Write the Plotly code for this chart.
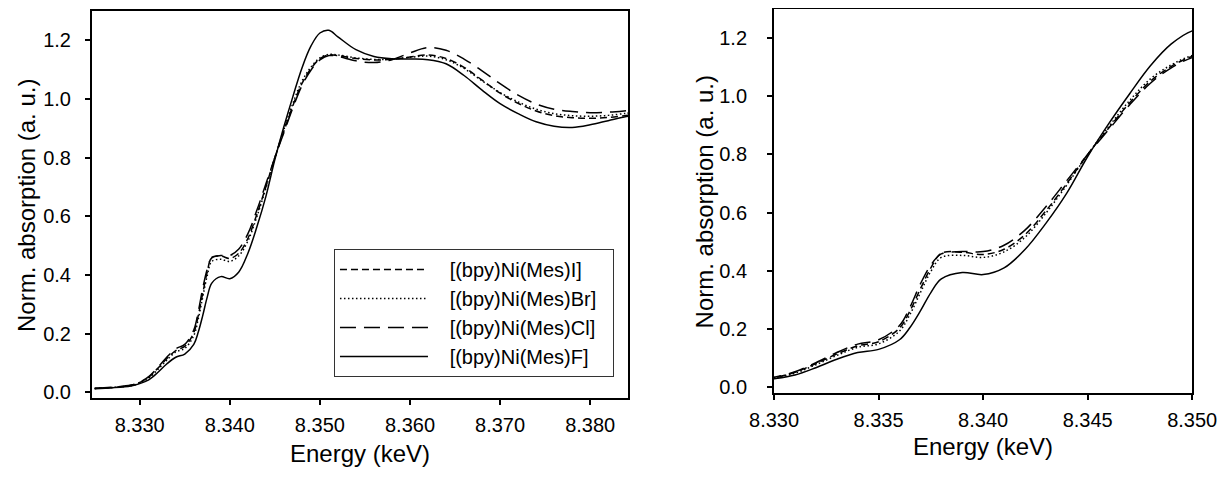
import plotly.graph_objects as go

# Ni K-edge XANES
energy = [8.325, 8.327, 8.329, 8.330, 8.331, 8.332, 8.333, 8.334, 8.335, 8.336,
          8.3365, 8.337, 8.3375, 8.338, 8.339, 8.340, 8.341, 8.342, 8.343, 8.344,
          8.345, 8.346, 8.347, 8.348, 8.349, 8.350, 8.351, 8.352, 8.354, 8.356,
          8.358, 8.360, 8.362, 8.364, 8.366, 8.368, 8.370, 8.372, 8.374, 8.376,
          8.378, 8.380, 8.382, 8.384, 8.385]

mu_I = [0.013, 0.016, 0.023, 0.033, 0.051, 0.081, 0.114, 0.142, 0.156, 0.203,
        0.262, 0.338, 0.410, 0.460, 0.464, 0.456, 0.474, 0.524, 0.606, 0.700,
        0.800, 0.890, 0.977, 1.052, 1.103, 1.137, 1.150, 1.148, 1.138, 1.133,
        1.135, 1.143, 1.150, 1.138, 1.108, 1.064, 1.020, 0.985, 0.959, 0.943,
        0.936, 0.934, 0.937, 0.944, 0.948]

mu_Br = [0.012, 0.016, 0.022, 0.031, 0.048, 0.077, 0.109, 0.137, 0.149, 0.193,
         0.250, 0.325, 0.398, 0.446, 0.453, 0.446, 0.465, 0.515, 0.598, 0.695,
         0.800, 0.895, 0.985, 1.060, 1.108, 1.140, 1.152, 1.150, 1.140, 1.135,
         1.136, 1.142, 1.146, 1.134, 1.104, 1.062, 1.022, 0.990, 0.965, 0.950,
         0.943, 0.941, 0.944, 0.951, 0.955]

mu_Cl = [0.013, 0.017, 0.024, 0.034, 0.053, 0.084, 0.119, 0.148, 0.163, 0.212,
         0.275, 0.355, 0.420, 0.458, 0.466, 0.466, 0.488, 0.540, 0.620, 0.710,
         0.800, 0.885, 0.970, 1.045, 1.098, 1.133, 1.148, 1.145, 1.130, 1.124,
         1.134, 1.157, 1.175, 1.166, 1.136, 1.096, 1.052, 1.013, 0.983, 0.965,
         0.957, 0.953, 0.955, 0.960, 0.963]

mu_F = [0.012, 0.015, 0.021, 0.029, 0.042, 0.067, 0.096, 0.119, 0.130, 0.163,
        0.205, 0.262, 0.325, 0.372, 0.394, 0.387, 0.410, 0.473, 0.563, 0.667,
        0.793, 0.905, 1.008, 1.105, 1.180, 1.225, 1.234, 1.212, 1.168, 1.145,
        1.137, 1.136, 1.134, 1.120, 1.080, 1.030, 0.984, 0.950, 0.922, 0.907,
        0.903, 0.912, 0.926, 0.940, 0.946]

names = ["[(bpy)Ni(Mes)I]", "[(bpy)Ni(Mes)Br]", "[(bpy)Ni(Mes)Cl]", "[(bpy)Ni(Mes)F]"]
series = [mu_I, mu_Br, mu_Cl, mu_F]
dashes = ["7px,4px", "1.5px,2.5px", "16px,8px", "solid"]

FONT = "Liberation Sans, Arial, sans-serif"
PAD = "\u00a0\u00a0\u00a0"  # room between legend sample and label, like the original
XTITLE = "Energy (keV)"
YTITLE = "Norm. absorption (a. u.)"

fig = go.Figure()
for name, ys, dash in zip(names, series, dashes):
    # full range, left panel
    fig.add_scatter(x=energy, y=ys, name=PAD + name + "\u00a0\u00a0", mode="lines",
                    line_shape="spline",
                    line={"color": "black", "width": 1.5, "dash": dash},
                    xaxis="x", yaxis="y")
    # zoomed edge, right panel
    fig.add_scatter(x=energy, y=ys, name=name, mode="lines", line_shape="spline",
                    line={"color": "black", "width": 1.5, "dash": dash},
                    xaxis="x2", yaxis="y2", showlegend=False)

axis_common = dict(
    showline=True, linecolor="black", linewidth=2, mirror=True,
    ticks="outside", ticklen=5, tickwidth=1.5, tickcolor="black",
    showgrid=False, zeroline=False, automargin=False,
    tickfont={"size": 20, "color": "black"},
)

fig.update_layout(
    width=1210, height=461,
    margin={"l": 0, "r": 0, "t": 0, "b": 0},
    paper_bgcolor="white", plot_bgcolor="white",
    font={"family": FONT, "color": "black"},
    xaxis=dict(axis_common, domain=[0.0694, 0.5124], range=[8.3247, 8.3842],
               dtick=0.01, tick0=8.33, tickformat=".3f", anchor="y",
               ticklabelstandoff=3),
    yaxis=dict(axis_common, domain=[0.1540, 0.9935], range=[-0.02, 1.3],
               dtick=0.2, tick0=0, tickformat=".1f", anchor="x",
               ticklabelstandoff=10),
    xaxis2=dict(axis_common, domain=[0.6331, 0.9787], range=[8.3299999, 8.3500001],
                dtick=0.005, tick0=8.33, tickformat=".3f", anchor="y2",
                ticklabelstandoff=3, ticklabeloverflow="allow"),
    yaxis2=dict(axis_common, domain=[0.1649, 0.9978], range=[-0.02, 1.3],
                dtick=0.2, tick0=0, tickformat=".1f", anchor="x2",
                ticklabelstandoff=16),
    legend=dict(x=0.2694, y=0.4772, xanchor="left", yanchor="top",
                bgcolor="white", bordercolor="#333", borderwidth=1,
                font={"size": 20, "color": "black"}, itemwidth=88,
                tracegroupgap=0),
    showlegend=True,
)

# axis titles as annotations so they sit where the original has them
title_font = {"size": 24, "color": "black"}
fig.add_annotation(text=XTITLE, xref="paper", yref="paper", x=0.2909, y=0.0,
                   xanchor="center", yanchor="bottom", showarrow=False, font=title_font)
fig.add_annotation(text=XTITLE, xref="paper", yref="paper", x=0.8059, y=0.082,
                   xanchor="center", yanchor="top", showarrow=False, font=title_font)
fig.add_annotation(text=YTITLE, xref="paper", yref="paper", x=0.0157, y=0.5727,
                   xanchor="center", yanchor="middle", textangle=-90,
                   showarrow=False, font=title_font)
fig.add_annotation(text=YTITLE, xref="paper", yref="paper", x=0.5760, y=0.5803,
                   xanchor="center", yanchor="middle", textangle=-90,
                   showarrow=False, font=title_font)

fig.write_html("out.html")
